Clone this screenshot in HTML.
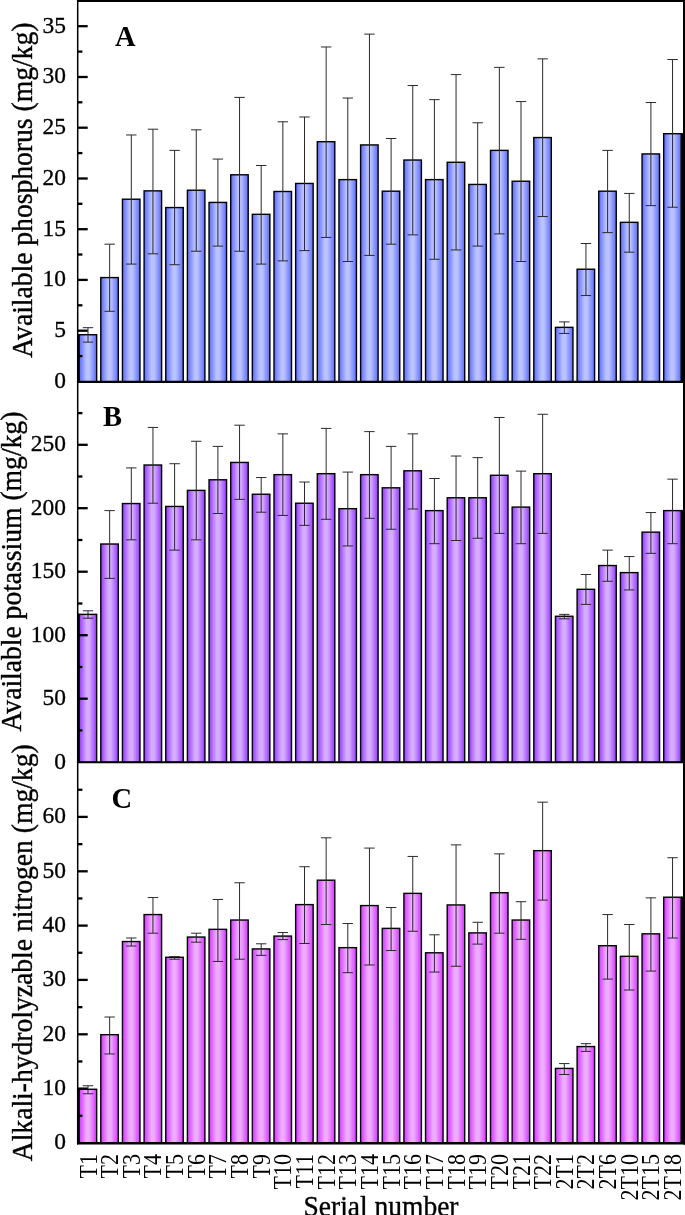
<!DOCTYPE html>
<html><head><meta charset="utf-8"><title>Soil nutrients</title>
<style>html,body{margin:0;padding:0;background:#fff}svg{display:block;will-change:transform}text{font-family:"Liberation Serif","DejaVu Serif",serif;fill:#000}</style></head><body>
<svg width="685" height="1215" viewBox="0 0 685 1215">
<defs>
<linearGradient id="g0" x1="0" y1="0" x2="1" y2="0"><stop offset="0" stop-color="#5c6cf9"/><stop offset="0.42" stop-color="#bac2ff"/><stop offset="0.58" stop-color="#bac2ff"/><stop offset="1" stop-color="#5c6cf9"/></linearGradient>
<linearGradient id="g1" x1="0" y1="0" x2="1" y2="0"><stop offset="0" stop-color="#9439ff"/><stop offset="0.42" stop-color="#d6acff"/><stop offset="0.58" stop-color="#d6acff"/><stop offset="1" stop-color="#9439ff"/></linearGradient>
<linearGradient id="g2" x1="0" y1="0" x2="1" y2="0"><stop offset="0" stop-color="#d436ff"/><stop offset="0.42" stop-color="#eeacff"/><stop offset="0.58" stop-color="#eeacff"/><stop offset="1" stop-color="#d436ff"/></linearGradient>
</defs>
<rect width="685" height="1215" fill="#fff"/>
<g id="panel0">
<rect x="77.2" y="334.04" width="2.2" height="47.76" fill="#000"/>
<rect x="681.2" y="132.99" width="2.5" height="248.81" fill="#000"/>
<g fill="url(#g0)" stroke="#000" stroke-width="1.4">
<rect x="79.15" y="334.74" width="17.5" height="47.06"/>
<rect x="100.80" y="277.58" width="17.5" height="104.22"/>
<rect x="122.45" y="199.21" width="17.5" height="182.59"/>
<rect x="144.10" y="190.86" width="17.5" height="190.94"/>
<rect x="165.75" y="207.56" width="17.5" height="174.24"/>
<rect x="187.40" y="190.22" width="17.5" height="191.58"/>
<rect x="209.05" y="202.42" width="17.5" height="179.38"/>
<rect x="230.70" y="174.80" width="17.5" height="207.00"/>
<rect x="252.35" y="214.31" width="17.5" height="167.49"/>
<rect x="274.00" y="191.50" width="17.5" height="190.30"/>
<rect x="295.65" y="183.47" width="17.5" height="198.33"/>
<rect x="317.30" y="141.72" width="17.5" height="240.08"/>
<rect x="338.95" y="179.62" width="17.5" height="202.18"/>
<rect x="360.60" y="144.93" width="17.5" height="236.87"/>
<rect x="382.25" y="191.18" width="17.5" height="190.62"/>
<rect x="403.90" y="160.03" width="17.5" height="221.77"/>
<rect x="425.55" y="179.62" width="17.5" height="202.18"/>
<rect x="447.20" y="162.28" width="17.5" height="219.52"/>
<rect x="468.85" y="184.44" width="17.5" height="197.36"/>
<rect x="490.50" y="150.39" width="17.5" height="231.41"/>
<rect x="512.15" y="181.23" width="17.5" height="200.57"/>
<rect x="533.80" y="137.55" width="17.5" height="244.25"/>
<rect x="555.45" y="327.36" width="17.5" height="54.44"/>
<rect x="577.10" y="269.23" width="17.5" height="112.57"/>
<rect x="598.75" y="191.18" width="17.5" height="190.62"/>
<rect x="620.40" y="222.34" width="17.5" height="159.46"/>
<rect x="642.05" y="153.93" width="17.5" height="227.87"/>
<rect x="663.70" y="133.69" width="17.5" height="248.11"/>
</g>
<g stroke="#2a2a2a" stroke-width="1" fill="none">
<path d="M82.80 327.68H93.20M88.00 327.68V342.13M82.80 342.13H93.20"/>
<path d="M104.45 244.18H114.85M109.65 244.18V311.30M104.45 311.30H114.85"/>
<path d="M126.10 134.98H136.50M131.30 134.98V264.09M126.10 264.09H136.50"/>
<path d="M147.75 129.20H158.15M152.95 129.20V253.81M147.75 253.81H158.15"/>
<path d="M169.40 150.39H179.80M174.60 150.39V264.73M169.40 264.73H179.80"/>
<path d="M191.05 129.84H201.45M196.25 129.84V251.24M191.05 251.24H201.45"/>
<path d="M212.70 159.07H223.10M217.90 159.07V246.10M212.70 246.10H223.10"/>
<path d="M234.35 97.40H244.75M239.55 97.40V251.24M234.35 251.24H244.75"/>
<path d="M256.00 165.49H266.40M261.20 165.49V264.09M256.00 264.09H266.40"/>
<path d="M277.65 121.81H288.05M282.85 121.81V260.88M277.65 260.88H288.05"/>
<path d="M299.30 116.99H309.70M304.50 116.99V250.60M299.30 250.60H309.70"/>
<path d="M320.95 46.98H331.35M326.15 46.98V237.43M320.95 237.43H331.35"/>
<path d="M342.60 98.04H353.00M347.80 98.04V261.52M342.60 261.52H353.00"/>
<path d="M364.25 34.13H374.65M369.45 34.13V255.42M364.25 255.42H374.65"/>
<path d="M385.90 138.51H396.30M391.10 138.51V244.18M385.90 244.18H396.30"/>
<path d="M407.55 85.52H417.95M412.75 85.52V234.86M407.55 234.86H417.95"/>
<path d="M429.20 99.65H439.60M434.40 99.65V259.27M429.20 259.27H439.60"/>
<path d="M450.85 74.60H461.25M456.05 74.60V249.96M450.85 249.96H461.25"/>
<path d="M472.50 122.77H482.90M477.70 122.77V246.10M472.50 246.10H482.90"/>
<path d="M494.15 67.37H504.55M499.35 67.37V233.90M494.15 233.90H504.55"/>
<path d="M515.80 101.58H526.20M521.00 101.58V261.52M515.80 261.52H526.20"/>
<path d="M537.45 58.86H547.85M542.65 58.86V216.55M537.45 216.55H547.85"/>
<path d="M559.10 321.90H569.50M564.30 321.90V333.46M559.10 333.46H569.50"/>
<path d="M580.75 243.53H591.15M585.95 243.53V295.56M580.75 295.56H591.15"/>
<path d="M602.40 150.39H612.80M607.60 150.39V232.61M602.40 232.61H612.80"/>
<path d="M624.05 193.43H634.45M629.25 193.43V252.20M624.05 252.20H634.45"/>
<path d="M645.70 102.54H656.10M650.90 102.54V205.64M645.70 205.64H656.10"/>
<path d="M667.35 59.50H677.75M672.55 59.50V207.24M667.35 207.24H677.75"/>
</g>
<g stroke="#000" stroke-width="2.3">
<line x1="77.7" y1="356.10" x2="82.4" y2="356.10"/>
<line x1="77.7" y1="330.70" x2="87.7" y2="330.70"/>
<line x1="77.7" y1="305.30" x2="82.4" y2="305.30"/>
<line x1="77.7" y1="279.90" x2="87.7" y2="279.90"/>
<line x1="77.7" y1="254.50" x2="82.4" y2="254.50"/>
<line x1="77.7" y1="229.20" x2="87.7" y2="229.20"/>
<line x1="77.7" y1="203.80" x2="82.4" y2="203.80"/>
<line x1="77.7" y1="178.50" x2="87.7" y2="178.50"/>
<line x1="77.7" y1="153.10" x2="82.4" y2="153.10"/>
<line x1="77.7" y1="127.70" x2="87.7" y2="127.70"/>
<line x1="77.7" y1="102.30" x2="82.4" y2="102.30"/>
<line x1="77.7" y1="77.00" x2="87.7" y2="77.00"/>
<line x1="77.7" y1="51.60" x2="82.4" y2="51.60"/>
<line x1="77.7" y1="26.20" x2="87.7" y2="26.20"/>
</g>
<g font-size="23" text-anchor="end" stroke="#000" stroke-width="0.3">
<text transform="translate(66.0 387.90) scale(1.02 1)">0</text>
<text transform="translate(66.0 337.10) scale(1.02 1)">5</text>
<text transform="translate(66.0 286.30) scale(1.02 1)">10</text>
<text transform="translate(66.0 235.60) scale(1.02 1)">15</text>
<text transform="translate(66.0 184.90) scale(1.02 1)">20</text>
<text transform="translate(66.0 134.10) scale(1.02 1)">25</text>
<text transform="translate(66.0 83.40) scale(1.02 1)">30</text>
<text transform="translate(66.0 32.60) scale(1.02 1)">35</text>
</g>
<text font-size="27.6" stroke="#000" stroke-width="0.35" text-anchor="middle" transform="translate(32.0 190.2) rotate(-90) scale(1 1.07)">Available phosphorus (mg/kg)</text>
<text font-size="28.5" font-weight="bold" x="115.0" y="45.9">A</text>
</g>
<g id="panel1">
<rect x="77.2" y="613.66" width="2.2" height="148.64" fill="#000"/>
<rect x="681.2" y="509.92" width="2.5" height="252.38" fill="#000"/>
<g fill="url(#g1)" stroke="#000" stroke-width="1.4">
<rect x="79.15" y="614.36" width="17.5" height="147.94"/>
<rect x="100.80" y="544.02" width="17.5" height="218.28"/>
<rect x="122.45" y="503.55" width="17.5" height="258.75"/>
<rect x="144.10" y="465.01" width="17.5" height="297.29"/>
<rect x="165.75" y="506.45" width="17.5" height="255.85"/>
<rect x="187.40" y="490.39" width="17.5" height="271.91"/>
<rect x="209.05" y="479.79" width="17.5" height="282.51"/>
<rect x="230.70" y="462.45" width="17.5" height="299.85"/>
<rect x="252.35" y="494.24" width="17.5" height="268.06"/>
<rect x="274.00" y="474.65" width="17.5" height="287.65"/>
<rect x="295.65" y="503.23" width="17.5" height="259.07"/>
<rect x="317.30" y="473.69" width="17.5" height="288.61"/>
<rect x="338.95" y="508.69" width="17.5" height="253.61"/>
<rect x="360.60" y="474.65" width="17.5" height="287.65"/>
<rect x="382.25" y="487.82" width="17.5" height="274.48"/>
<rect x="403.90" y="470.80" width="17.5" height="291.50"/>
<rect x="425.55" y="510.62" width="17.5" height="251.68"/>
<rect x="447.20" y="497.77" width="17.5" height="264.53"/>
<rect x="468.85" y="497.77" width="17.5" height="264.53"/>
<rect x="490.50" y="475.29" width="17.5" height="287.01"/>
<rect x="512.15" y="507.09" width="17.5" height="255.21"/>
<rect x="533.80" y="473.69" width="17.5" height="288.61"/>
<rect x="555.45" y="616.28" width="17.5" height="146.02"/>
<rect x="577.10" y="589.31" width="17.5" height="172.99"/>
<rect x="598.75" y="565.54" width="17.5" height="196.76"/>
<rect x="620.40" y="572.61" width="17.5" height="189.69"/>
<rect x="642.05" y="532.14" width="17.5" height="230.16"/>
<rect x="663.70" y="510.62" width="17.5" height="251.68"/>
</g>
<g stroke="#2a2a2a" stroke-width="1" fill="none">
<path d="M82.80 610.82H93.20M88.00 610.82V618.21M82.80 618.21H93.20"/>
<path d="M104.45 510.62H114.85M109.65 510.62V578.39M104.45 578.39H114.85"/>
<path d="M126.10 467.91H136.50M131.30 467.91V539.85M126.10 539.85H136.50"/>
<path d="M147.75 427.44H158.15M152.95 427.44V503.23M147.75 503.23H158.15"/>
<path d="M169.40 463.73H179.80M174.60 463.73V550.12M169.40 550.12H179.80"/>
<path d="M191.05 441.25H201.45M196.25 441.25V539.85M191.05 539.85H201.45"/>
<path d="M212.70 446.39H223.10M217.90 446.39V513.51M212.70 513.51H223.10"/>
<path d="M234.35 425.19H244.75M239.55 425.19V499.38M234.35 499.38H244.75"/>
<path d="M256.00 477.54H266.40M261.20 477.54V512.23M256.00 512.23H266.40"/>
<path d="M277.65 433.86H288.05M282.85 433.86V515.44M277.65 515.44H288.05"/>
<path d="M299.30 482.04H309.70M304.50 482.04V525.39M299.30 525.39H309.70"/>
<path d="M320.95 428.40H331.35M326.15 428.40V519.29M320.95 519.29H331.35"/>
<path d="M342.60 472.08H353.00M347.80 472.08V545.95M342.60 545.95H353.00"/>
<path d="M364.25 431.61H374.65M369.45 431.61V518.33M364.25 518.33H374.65"/>
<path d="M385.90 446.39H396.30M391.10 446.39V529.25M385.90 529.25H396.30"/>
<path d="M407.55 433.86H417.95M412.75 433.86V509.01M407.55 509.01H417.95"/>
<path d="M429.20 478.50H439.60M434.40 478.50V543.70M429.20 543.70H439.60"/>
<path d="M450.85 456.02H461.25M456.05 456.02V540.49M450.85 540.49H461.25"/>
<path d="M472.50 457.63H482.90M477.70 457.63V538.24M472.50 538.24H482.90"/>
<path d="M494.15 417.48H504.55M499.35 417.48V533.42M494.15 533.42H504.55"/>
<path d="M515.80 471.12H526.20M521.00 471.12V543.70M515.80 543.70H526.20"/>
<path d="M537.45 414.27H547.85M542.65 414.27V533.42M537.45 533.42H547.85"/>
<path d="M559.10 614.36H569.50M564.30 614.36V618.85M559.10 618.85H569.50"/>
<path d="M580.75 574.53H591.15M585.95 574.53V604.40M580.75 604.40H591.15"/>
<path d="M602.40 550.12H612.80M607.60 550.12V581.28M602.40 581.28H612.80"/>
<path d="M624.05 556.55H634.45M629.25 556.55V589.95M624.05 589.95H634.45"/>
<path d="M645.70 512.55H656.10M650.90 512.55V553.34M645.70 553.34H656.10"/>
<path d="M667.35 479.15H677.75M672.55 479.15V543.70M667.35 543.70H677.75"/>
</g>
<g stroke="#000" stroke-width="2.3">
<line x1="77.7" y1="730.40" x2="82.4" y2="730.40"/>
<line x1="77.7" y1="698.70" x2="87.7" y2="698.70"/>
<line x1="77.7" y1="667.00" x2="82.4" y2="667.00"/>
<line x1="77.7" y1="635.20" x2="87.7" y2="635.20"/>
<line x1="77.7" y1="603.50" x2="82.4" y2="603.50"/>
<line x1="77.7" y1="571.70" x2="87.7" y2="571.70"/>
<line x1="77.7" y1="540.00" x2="82.4" y2="540.00"/>
<line x1="77.7" y1="508.20" x2="87.7" y2="508.20"/>
<line x1="77.7" y1="476.50" x2="82.4" y2="476.50"/>
<line x1="77.7" y1="444.80" x2="87.7" y2="444.80"/>
<line x1="77.7" y1="413.10" x2="82.4" y2="413.10"/>
</g>
<g font-size="23" text-anchor="end" stroke="#000" stroke-width="0.3">
<text transform="translate(66.0 768.50) scale(1.02 1)">0</text>
<text transform="translate(66.0 705.10) scale(1.02 1)">50</text>
<text transform="translate(66.0 641.60) scale(1.02 1)">100</text>
<text transform="translate(66.0 578.10) scale(1.02 1)">150</text>
<text transform="translate(66.0 514.60) scale(1.02 1)">200</text>
<text transform="translate(66.0 451.20) scale(1.02 1)">250</text>
</g>
<text font-size="27.6" stroke="#000" stroke-width="0.35" text-anchor="middle" transform="translate(21.0 571.6) rotate(-90) scale(1 1.07)">Available potassium (mg/kg)</text>
<text font-size="28.5" font-weight="bold" x="102.9" y="425.9">B</text>
</g>
<g id="panel2">
<rect x="77.2" y="1088.58" width="2.2" height="54.62" fill="#000"/>
<rect x="681.2" y="896.53" width="2.5" height="246.67" fill="#000"/>
<g fill="url(#g2)" stroke="#000" stroke-width="1.4">
<rect x="79.15" y="1089.28" width="17.5" height="53.92"/>
<rect x="100.80" y="1034.69" width="17.5" height="108.51"/>
<rect x="122.45" y="941.55" width="17.5" height="201.65"/>
<rect x="144.10" y="914.57" width="17.5" height="228.63"/>
<rect x="165.75" y="957.28" width="17.5" height="185.92"/>
<rect x="187.40" y="937.05" width="17.5" height="206.15"/>
<rect x="209.05" y="929.34" width="17.5" height="213.86"/>
<rect x="230.70" y="920.03" width="17.5" height="223.17"/>
<rect x="252.35" y="948.93" width="17.5" height="194.27"/>
<rect x="274.00" y="936.09" width="17.5" height="207.11"/>
<rect x="295.65" y="904.61" width="17.5" height="238.59"/>
<rect x="317.30" y="880.20" width="17.5" height="263.00"/>
<rect x="338.95" y="947.65" width="17.5" height="195.55"/>
<rect x="360.60" y="905.58" width="17.5" height="237.62"/>
<rect x="382.25" y="928.38" width="17.5" height="214.82"/>
<rect x="403.90" y="893.37" width="17.5" height="249.83"/>
<rect x="425.55" y="952.79" width="17.5" height="190.41"/>
<rect x="447.20" y="904.93" width="17.5" height="238.27"/>
<rect x="468.85" y="932.88" width="17.5" height="210.32"/>
<rect x="490.50" y="892.73" width="17.5" height="250.47"/>
<rect x="512.15" y="920.03" width="17.5" height="223.17"/>
<rect x="533.80" y="850.66" width="17.5" height="292.54"/>
<rect x="555.45" y="1068.41" width="17.5" height="74.79"/>
<rect x="577.10" y="1046.57" width="17.5" height="96.63"/>
<rect x="598.75" y="945.72" width="17.5" height="197.48"/>
<rect x="620.40" y="956.32" width="17.5" height="186.88"/>
<rect x="642.05" y="933.84" width="17.5" height="209.36"/>
<rect x="663.70" y="897.23" width="17.5" height="245.97"/>
</g>
<g stroke="#2a2a2a" stroke-width="1" fill="none">
<path d="M82.80 1085.75H93.20M88.00 1085.75V1093.78M82.80 1093.78H93.20"/>
<path d="M104.45 1017.02H114.85M109.65 1017.02V1053.96M104.45 1053.96H114.85"/>
<path d="M126.10 938.01H136.50M131.30 938.01V946.04M126.10 946.04H136.50"/>
<path d="M147.75 897.55H158.15M152.95 897.55V933.20M147.75 933.20H158.15"/>
<path d="M169.40 956.64H179.80M174.60 956.64V959.21M169.40 959.21H179.80"/>
<path d="M191.05 933.20H201.45M196.25 933.20V942.19M191.05 942.19H201.45"/>
<path d="M212.70 899.47H223.10M217.90 899.47V961.46M212.70 961.46H223.10"/>
<path d="M234.35 882.77H244.75M239.55 882.77V959.21M234.35 959.21H244.75"/>
<path d="M256.00 943.80H266.40M261.20 943.80V955.36M256.00 955.36H266.40"/>
<path d="M277.65 932.55H288.05M282.85 932.55V939.62M277.65 939.62H288.05"/>
<path d="M299.30 866.72H309.70M304.50 866.72V943.47M299.30 943.47H309.70"/>
<path d="M320.95 837.81H331.35M326.15 837.81V924.53M320.95 924.53H331.35"/>
<path d="M342.60 923.56H353.00M347.80 923.56V972.70M342.60 972.70H353.00"/>
<path d="M364.25 848.09H374.65M369.45 848.09V964.99M364.25 964.99H374.65"/>
<path d="M385.90 907.50H396.30M391.10 907.50V950.54M385.90 950.54H396.30"/>
<path d="M407.55 856.44H417.95M412.75 856.44V931.27M407.55 931.27H417.95"/>
<path d="M429.20 934.80H439.60M434.40 934.80V972.06M429.20 972.06H439.60"/>
<path d="M450.85 844.88H461.25M456.05 844.88V966.28M450.85 966.28H461.25"/>
<path d="M472.50 922.28H482.90M477.70 922.28V944.12M472.50 944.12H482.90"/>
<path d="M494.15 853.87H504.55M499.35 853.87V933.20M494.15 933.20H504.55"/>
<path d="M515.80 901.72H526.20M521.00 901.72V939.30M515.80 939.30H526.20"/>
<path d="M537.45 802.16H547.85M542.65 802.16V900.12M537.45 900.12H547.85"/>
<path d="M559.10 1063.59H569.50M564.30 1063.59V1074.51M559.10 1074.51H569.50"/>
<path d="M580.75 1043.68H591.15M585.95 1043.68V1051.39M580.75 1051.39H591.15"/>
<path d="M602.40 914.57H612.80M607.60 914.57V979.12M602.40 979.12H612.80"/>
<path d="M624.05 924.53H634.45M629.25 924.53V990.04M624.05 990.04H634.45"/>
<path d="M645.70 897.87H656.10M650.90 897.87V971.09M645.70 971.09H656.10"/>
<path d="M667.35 857.72H677.75M672.55 857.72V938.01M667.35 938.01H677.75"/>
</g>
<g stroke="#000" stroke-width="2.3">
<line x1="77.7" y1="1115.75" x2="82.4" y2="1115.75"/>
<line x1="77.7" y1="1088.60" x2="87.7" y2="1088.60"/>
<line x1="77.7" y1="1061.45" x2="82.4" y2="1061.45"/>
<line x1="77.7" y1="1034.30" x2="87.7" y2="1034.30"/>
<line x1="77.7" y1="1007.15" x2="82.4" y2="1007.15"/>
<line x1="77.7" y1="979.90" x2="87.7" y2="979.90"/>
<line x1="77.7" y1="952.75" x2="82.4" y2="952.75"/>
<line x1="77.7" y1="925.60" x2="87.7" y2="925.60"/>
<line x1="77.7" y1="898.45" x2="82.4" y2="898.45"/>
<line x1="77.7" y1="871.30" x2="87.7" y2="871.30"/>
<line x1="77.7" y1="844.15" x2="82.4" y2="844.15"/>
<line x1="77.7" y1="816.90" x2="87.7" y2="816.90"/>
<line x1="77.7" y1="789.75" x2="82.4" y2="789.75"/>
</g>
<g font-size="23" text-anchor="end" stroke="#000" stroke-width="0.3">
<text transform="translate(66.0 1149.30) scale(1.02 1)">0</text>
<text transform="translate(66.0 1095.00) scale(1.02 1)">10</text>
<text transform="translate(66.0 1040.70) scale(1.02 1)">20</text>
<text transform="translate(66.0 986.30) scale(1.02 1)">30</text>
<text transform="translate(66.0 932.00) scale(1.02 1)">40</text>
<text transform="translate(66.0 877.70) scale(1.02 1)">50</text>
<text transform="translate(66.0 823.30) scale(1.02 1)">60</text>
</g>
<text font-size="27.6" stroke="#000" stroke-width="0.35" text-anchor="middle" transform="translate(32.0 952.8) rotate(-90) scale(1 1.07)">Alkali-hydrolyzable nitrogen (mg/kg)</text>
<text font-size="28.5" font-weight="bold" x="111.6" y="807.6">C</text>
</g>
<g stroke="#000" fill="none">
<line x1="77.7" y1="0" x2="77.7" y2="1144.5" stroke-width="1.5"/>
<line x1="684.0" y1="0" x2="684.0" y2="1144.5" stroke-width="2"/>
<line x1="76.95" y1="1" x2="685" y2="1" stroke-width="2"/>
<line x1="76.95" y1="381.85" x2="685" y2="381.85" stroke-width="2.1"/>
<line x1="76.95" y1="762.3" x2="685" y2="762.3" stroke-width="2.1"/>
<line x1="76.95" y1="1143.25" x2="685" y2="1143.25" stroke-width="2.6"/>
</g>
<g font-size="22" text-anchor="end">
<text transform="translate(96.50 1154.0) rotate(-90) scale(1 1.14)">T1</text>
<text transform="translate(118.15 1154.0) rotate(-90) scale(1 1.14)">T2</text>
<text transform="translate(139.80 1154.0) rotate(-90) scale(1 1.14)">T3</text>
<text transform="translate(161.45 1154.0) rotate(-90) scale(1 1.14)">T4</text>
<text transform="translate(183.10 1154.0) rotate(-90) scale(1 1.14)">T5</text>
<text transform="translate(204.75 1154.0) rotate(-90) scale(1 1.14)">T6</text>
<text transform="translate(226.40 1154.0) rotate(-90) scale(1 1.14)">T7</text>
<text transform="translate(248.05 1154.0) rotate(-90) scale(1 1.14)">T8</text>
<text transform="translate(269.70 1154.0) rotate(-90) scale(1 1.14)">T9</text>
<text transform="translate(291.35 1154.0) rotate(-90) scale(1 1.14)">T10</text>
<text transform="translate(313.00 1154.0) rotate(-90) scale(1 1.14)">T11</text>
<text transform="translate(334.65 1154.0) rotate(-90) scale(1 1.14)">T12</text>
<text transform="translate(356.30 1154.0) rotate(-90) scale(1 1.14)">T13</text>
<text transform="translate(377.95 1154.0) rotate(-90) scale(1 1.14)">T14</text>
<text transform="translate(399.60 1154.0) rotate(-90) scale(1 1.14)">T15</text>
<text transform="translate(421.25 1154.0) rotate(-90) scale(1 1.14)">T16</text>
<text transform="translate(442.90 1154.0) rotate(-90) scale(1 1.14)">T17</text>
<text transform="translate(464.55 1154.0) rotate(-90) scale(1 1.14)">T18</text>
<text transform="translate(486.20 1154.0) rotate(-90) scale(1 1.14)">T19</text>
<text transform="translate(507.85 1154.0) rotate(-90) scale(1 1.14)">T20</text>
<text transform="translate(529.50 1154.0) rotate(-90) scale(1 1.14)">T21</text>
<text transform="translate(551.15 1154.0) rotate(-90) scale(1 1.14)">T22</text>
<text transform="translate(572.80 1154.0) rotate(-90) scale(1 1.14)">2T1</text>
<text transform="translate(594.45 1154.0) rotate(-90) scale(1 1.14)">2T2</text>
<text transform="translate(616.10 1154.0) rotate(-90) scale(1 1.14)">2T6</text>
<text transform="translate(637.75 1154.0) rotate(-90) scale(1 1.14)">2T10</text>
<text transform="translate(659.40 1154.0) rotate(-90) scale(1 1.14)">2T15</text>
<text transform="translate(681.05 1154.0) rotate(-90) scale(1 1.14)">2T18</text>
</g>
<text font-size="27.5" stroke="#000" stroke-width="0.35" text-anchor="middle" transform="translate(381 1216) scale(1 1.05)">Serial number</text>
</svg></body></html>
